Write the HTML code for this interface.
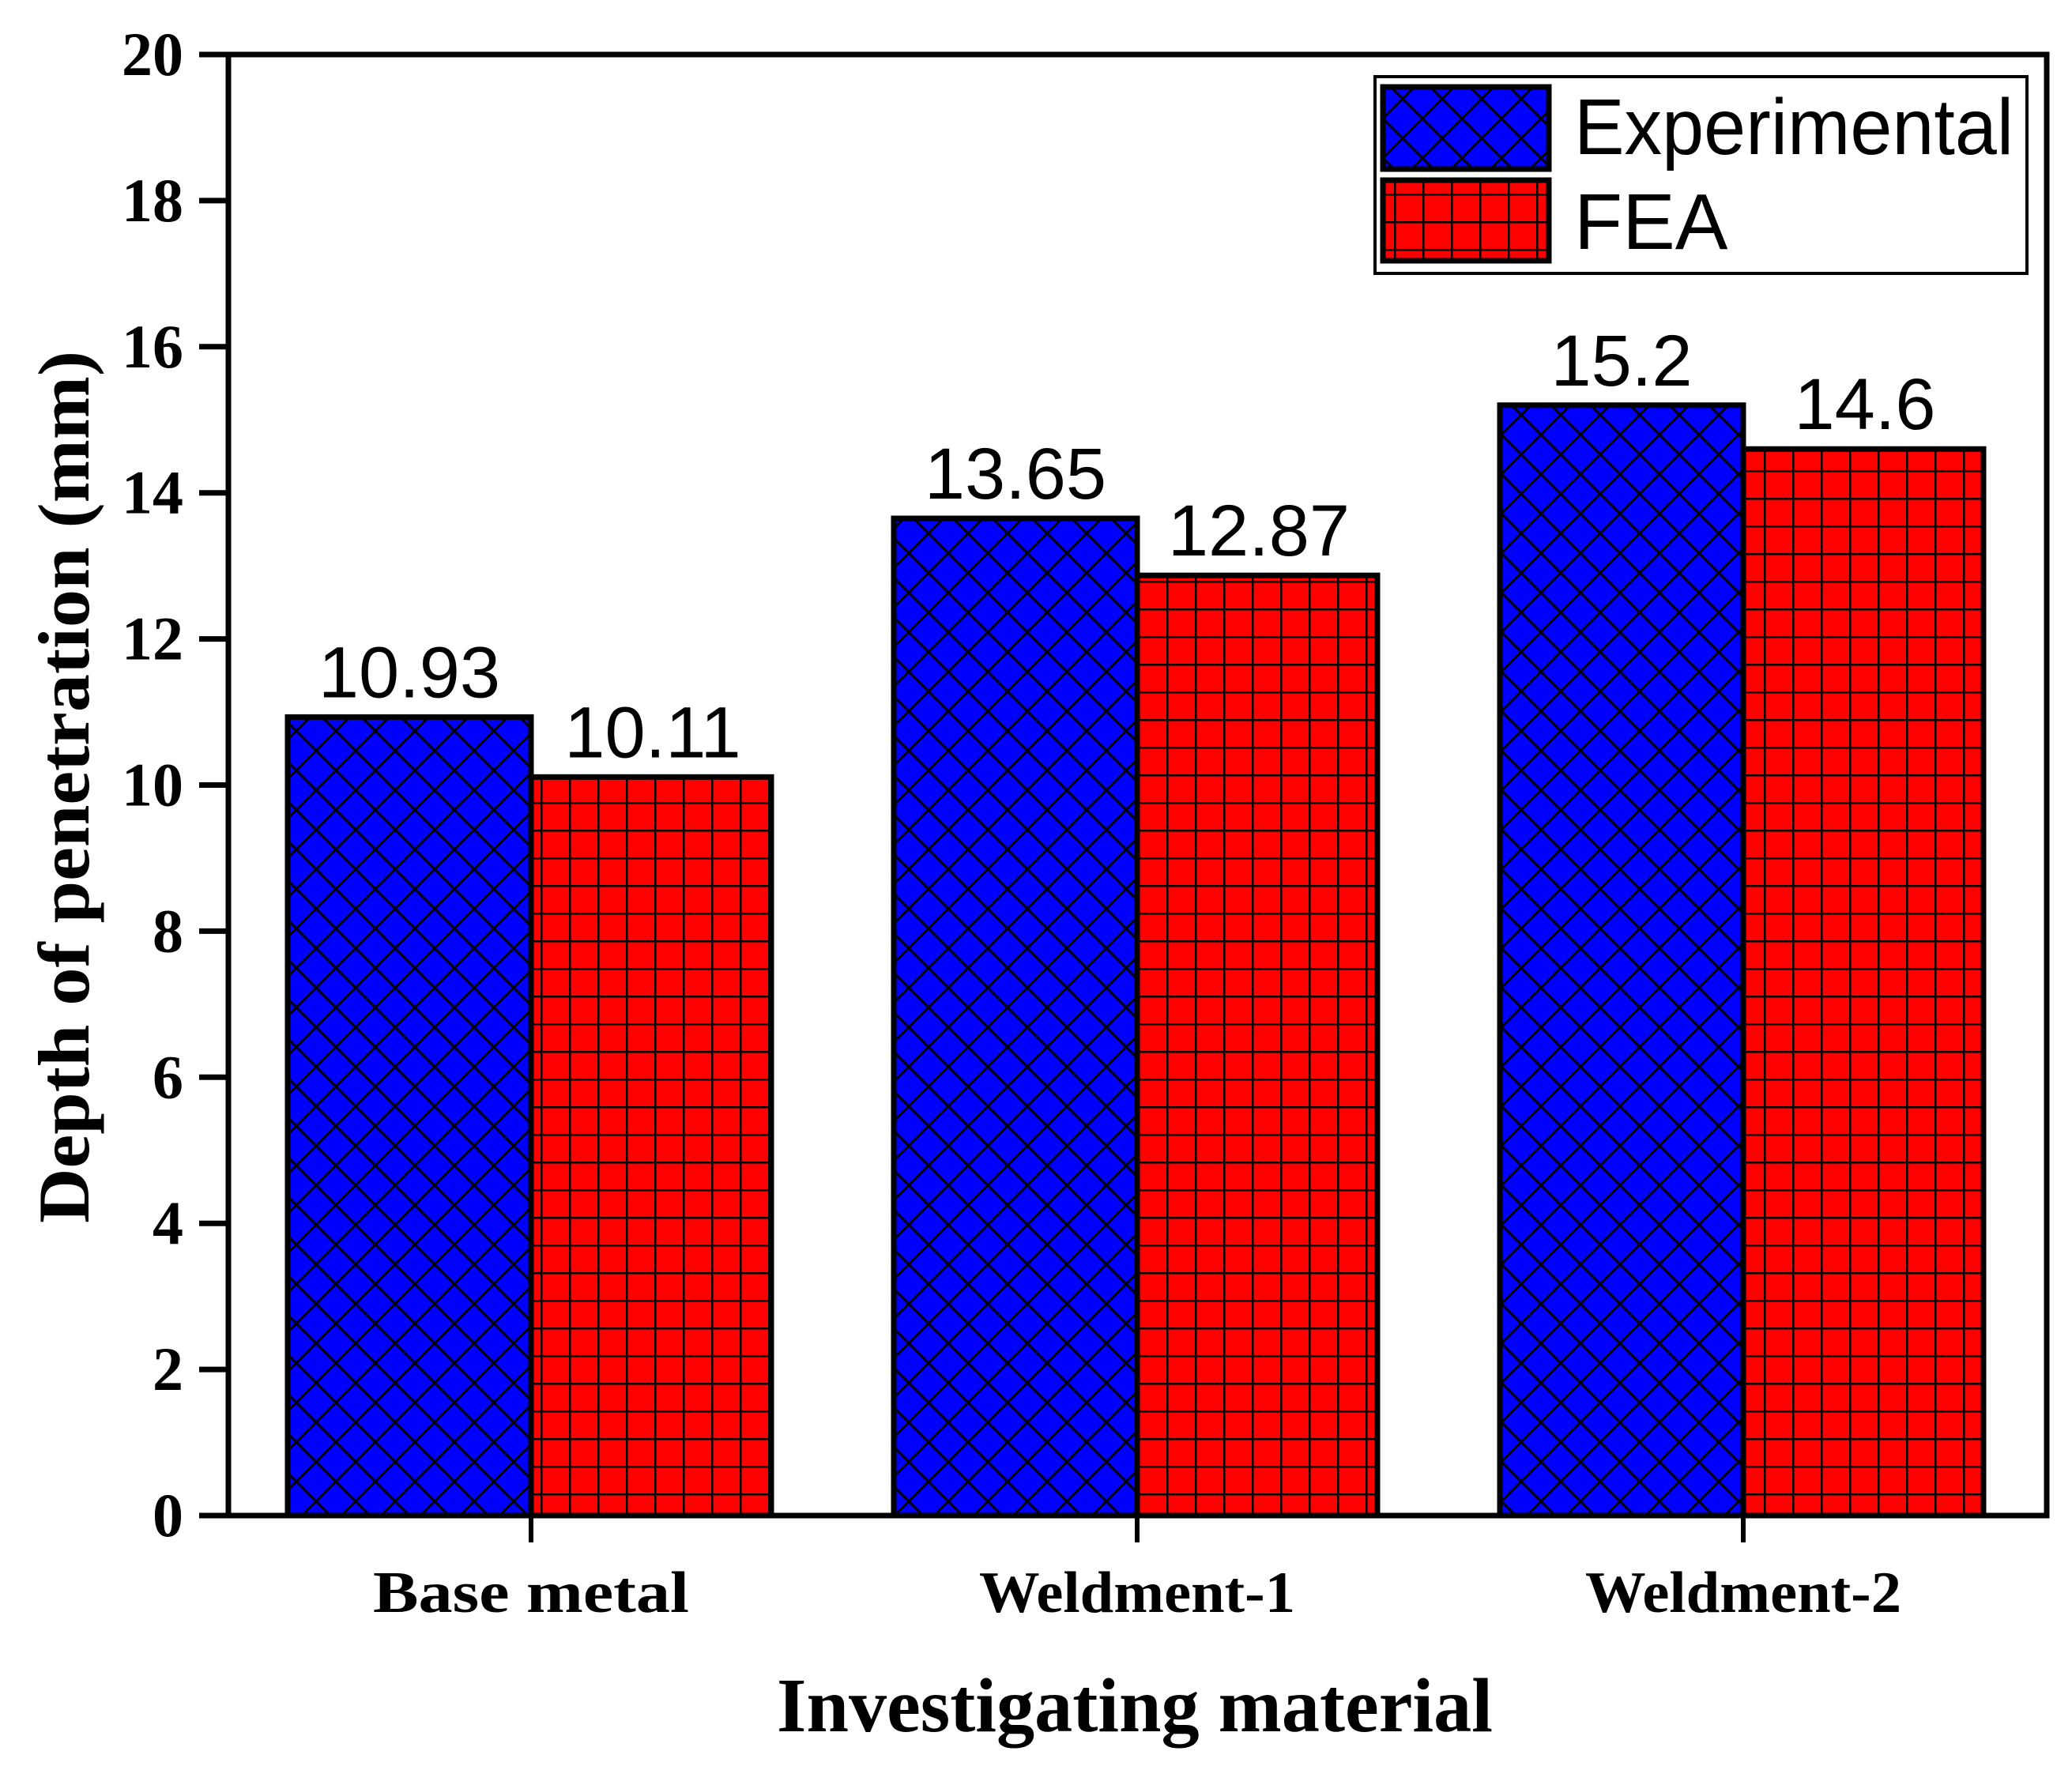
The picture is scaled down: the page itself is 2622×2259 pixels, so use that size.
<!DOCTYPE html>
<html><head><meta charset="utf-8"><style>html,body{margin:0;padding:0;background:#fff;}svg{display:block;}</style></head>
<body>
<svg id="chart" width="2622" height="2259" viewBox="0 0 2622 2259" xmlns="http://www.w3.org/2000/svg">
<defs>
<pattern id="diamond" patternUnits="userSpaceOnUse" width="50" height="50" x="0" y="0">
<rect width="50" height="50" fill="#0000ff"/>
<path d="M0,0 L50,50 M50,0 L0,50 M-25,25 L25,-25 M25,75 L75,25 M-25,25 L25,75 M25,-25 L75,25" stroke="#000" stroke-width="3"/>
</pattern>
<pattern id="grid" patternUnits="userSpaceOnUse" width="36" height="35">
<rect width="36" height="35" fill="#ff0000"/>
<path d="M0,0 V35 M0,0 H36" stroke="#000" stroke-width="5"/>
</pattern>
</defs>
<g id="plot"></g>
</svg>
<script>
const categories = ["Base metal", "Weldment-1", "Weldment-2"];
const experimental = [10.93, 13.65, 15.2];
const fea = [10.11, 12.87, 14.6];
const expLabels = ["10.93", "13.65", "15.2"];
const feaLabels = ["10.11", "12.87", "14.6"];
const yTicks = [0, 2, 4, 6, 8, 10, 12, 14, 16, 18, 20];

const NS = "http://www.w3.org/2000/svg";
const g = document.getElementById('plot');
const L = 289, R = 2590, T = 69, B = 1918;
const yMin = 0, yMax = 20;
function yScale(v){ return B - (v - yMin) / (yMax - yMin) * (B - T); }
const groupStart = 672, groupStep = 767;
function xCenter(i){ return groupStart + i * groupStep; }
const barW = 308;

function mk(tag, attrs, text){
  const el = document.createElementNS(NS, tag);
  for (const k in attrs) el.setAttribute(k, attrs[k]);
  if (text !== undefined) el.textContent = text;
  g.appendChild(el);
  return el;
}

let e = mk('rect', {x:L, y:T, width:R-L, height:B-T, fill:'none', stroke:'#000', 'stroke-width':7});



yTicks.forEach(v => {
  const y = yScale(v);
  let t = mk('line', {x1:252, x2:L, y1:y, y2:y, stroke:'#000', 'stroke-width':7});
  
  
  let lb = mk('text', {x:232, y:y+26, 'text-anchor':'end', 'font-family':'Liberation Serif, serif', 'font-weight':'bold', 'font-size':78}, String(v));
  
  
});

categories.forEach((c, i) => {
  const cx = xCenter(i);
  const ye = yScale(experimental[i]);
  let b1 = mk('rect', {x:cx-barW, y:ye, width:barW, height:B-ye, fill:'url(#diamond)', stroke:'#000', 'stroke-width':7});
  
  
  const yf = yScale(fea[i]);
  let b2 = mk('rect', {x:cx, y:yf, width:barW-4, height:B-yf, fill:'url(#grid)', stroke:'#000', 'stroke-width':7});
  
  
  let l1 = mk('text', {x:cx-barW/2, y:ye-25, 'text-anchor':'middle', 'font-family':'Liberation Sans, sans-serif', 'font-size':92}, expLabels[i]);
  
  
  let l2 = mk('text', {x:cx+barW/2, y:yf-25, 'text-anchor':'middle', 'font-family':'Liberation Sans, sans-serif', 'font-size':92}, feaLabels[i]);
  
  
  let tk = mk('line', {x1:cx, x2:cx, y1:B, y2:1952, stroke:'#000', 'stroke-width':6});
  
  
  let xl = mk('text', {x:cx, y:2040, 'text-anchor':'middle', 'font-family':'Liberation Serif, serif', 'font-weight':'bold', 'font-size':74, textLength: 400, lengthAdjust:'spacingAndGlyphs'}, c);
  
  
});
let ax = mk('line', {x1:252, x2:R, y1:B, y2:B, stroke:'#000', 'stroke-width':7});



let xt = mk('text', {x:1436, y:2191, 'text-anchor':'middle', 'font-family':'Liberation Serif, serif', 'font-weight':'bold', 'font-size':98, textLength:906, lengthAdjust:'spacingAndGlyphs'}, 'Investigating material');


let yt = mk('text', {x:0, y:0, transform:'translate(112,996) rotate(-90)', 'text-anchor':'middle', 'font-family':'Liberation Serif, serif', 'font-weight':'bold', 'font-size':92, textLength:1104, lengthAdjust:'spacingAndGlyphs'}, 'Depth of penetration (mm)');



let lg = mk('rect', {x:1740, y:97, width:825, height:249, fill:'#fff', stroke:'#000', 'stroke-width':4});


let s1 = mk('rect', {x:1750, y:110, width:210, height:104, fill:'url(#diamond)', stroke:'#000', 'stroke-width':7});


let s2 = mk('rect', {x:1750, y:228, width:210, height:102, fill:'url(#grid)', stroke:'#000', 'stroke-width':7});


let t1 = mk('text', {x:1992, y:195, 'font-family':'Liberation Sans, sans-serif', 'font-size':100, textLength:556, lengthAdjust:'spacingAndGlyphs'}, 'Experimental');


let t2 = mk('text', {x:1992, y:315, 'font-family':'Liberation Sans, sans-serif', 'font-size':100}, 'FEA');


</script>
</body></html>
